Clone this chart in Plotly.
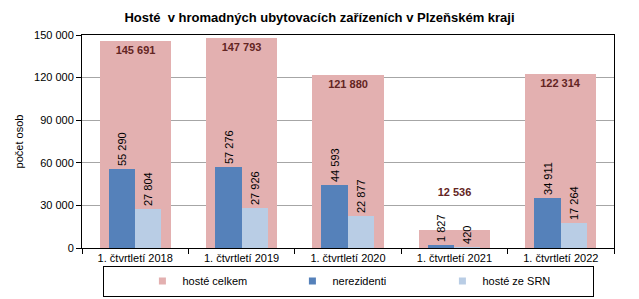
import plotly.graph_objects as go

categories = ["1. čtvrtletí 2018", "1. čtvrtletí 2019", "1. čtvrtletí 2020",
              "1. čtvrtletí 2021", "1. čtvrtletí 2022"]
hoste_celkem = [145691, 147793, 121880, 12536, 122314]
nerezidenti = [55290, 57276, 44593, 1827, 34911]
hoste_srn = [27804, 27926, 22877, 420, 17264]
y_ticks = [0, 30000, 60000, 90000, 120000, 150000]

series_names = ["hosté celkem", "nerezidenti", "hosté ze SRN"]
series_colors = ["#E3B0B0", "#5581BA", "#B9CDE5"]


def fmt(v):
    return f"{v:,}".replace(",", " ")


FONT = "Arial, Liberation Sans, sans-serif"

fig = go.Figure()

# --------------------------
# total guests (wide background bars)
# --------------------------
total_pos = ["outside" if v < 30000 else "inside" for v in hoste_celkem]
total_txt = ["<b>" + fmt(v) + "</b>" + ("<br> <br> " if v < 30000 else "")
             for v in hoste_celkem]

fig.add_trace(
    go.Bar(
        x=categories,
        y=hoste_celkem,
        name=series_names[0],
        marker=dict(color=series_colors[0], line=dict(width=0)),
        width=0.67,
        offset=-0.335,
        text=total_txt,
        textposition=total_pos,
        insidetextanchor="end",
        textangle=0,
        constraintext="none",
        textfont=dict(family=FONT, size=11, color="#632523"),
        cliponaxis=False,
        showlegend=False
    )
)

# --------------------------
# non-residents
# --------------------------
fig.add_trace(
    go.Bar(
        x=categories,
        y=nerezidenti,
        name=series_names[1],
        marker=dict(color=series_colors[1], line=dict(width=0)),
        width=0.25,
        offset=-0.25,
        text=[fmt(v) for v in nerezidenti],
        textposition="outside",
        textangle=-90,
        constraintext="none",
        textfont=dict(family=FONT, size=11, color="#000000"),
        cliponaxis=False,
        showlegend=False
    )
)

# --------------------------
# guests from Germany
# --------------------------
fig.add_trace(
    go.Bar(
        x=categories,
        y=hoste_srn,
        name=series_names[2],
        marker=dict(color=series_colors[2], line=dict(width=0)),
        width=0.245,
        offset=0.0,
        text=[fmt(v) for v in hoste_srn],
        textposition="outside",
        textangle=-90,
        constraintext="none",
        textfont=dict(family=FONT, size=11, color="#000000"),
        cliponaxis=False,
        showlegend=False
    )
)

# --------------------------
# Legend entries (small squares like the original)
# --------------------------
for name, color in zip(series_names, series_colors):
    fig.add_trace(
        go.Scatter(
            x=[None],
            y=[None],
            mode="markers",
            name=name,
            marker=dict(symbol="square", size=7, color=color)
        )
    )

# --------------------------
# Layout
# --------------------------
fig.update_layout(
    width=639,
    height=299,
    margin=dict(l=82, r=25, t=35, b=51, autoexpand=False),
    paper_bgcolor="white",
    plot_bgcolor="white",
    barmode="overlay",
    separators=", ",
    font=dict(family=FONT, size=11, color="#000000"),
    title=dict(
        text="<b>Hosté  v hromadných ubytovacích zařízeních v Plzeňském kraji</b>",
        x=0.5,
        xanchor="center",
        y=0.94,
        yanchor="middle",
        font=dict(family=FONT, size=13, color="#000000")
    ),
    showlegend=True,
    legend=dict(
        orientation="h",
        x=0.5,
        xanchor="center",
        y=-0.155,
        yanchor="middle",
        bordercolor="#000000",
        borderwidth=1,
        entrywidth=105,
        font=dict(family=FONT, size=11),
        itemwidth=30,
        traceorder="normal",
        title=dict(text="\u00a0" * 8, side="left")
    ),
    bargap=0
)

fig.update_yaxes(
    range=[0, 150000],
    tickvals=y_ticks,
    ticktext=[fmt(v) for v in y_ticks],
    showgrid=True,
    gridcolor="#A6A6A6",
    gridwidth=1,
    showline=True,
    linecolor="#000000",
    linewidth=1,
    mirror=True,
    ticks="outside",
    ticklen=5,
    tickcolor="#000000",
    tickfont=dict(family=FONT, size=11, color="#000000"),
    title=dict(text="počet osob", font=dict(family=FONT, size=11), standoff=8),
    zeroline=False,
    automargin=False
)

fig.update_xaxes(
    range=[-0.5, 4.5],
    showline=True,
    linecolor="#000000",
    linewidth=1,
    mirror=True,
    ticks="outside",
    tickson="boundaries",
    ticklen=5,
    tickcolor="#000000",
    tickfont=dict(family=FONT, size=11, color="#000000"),
    automargin=False
)

fig.write_html(
    "out.html",
    config={"displayModeBar": False},
    post_script="document.body.style.margin='0';"
)
